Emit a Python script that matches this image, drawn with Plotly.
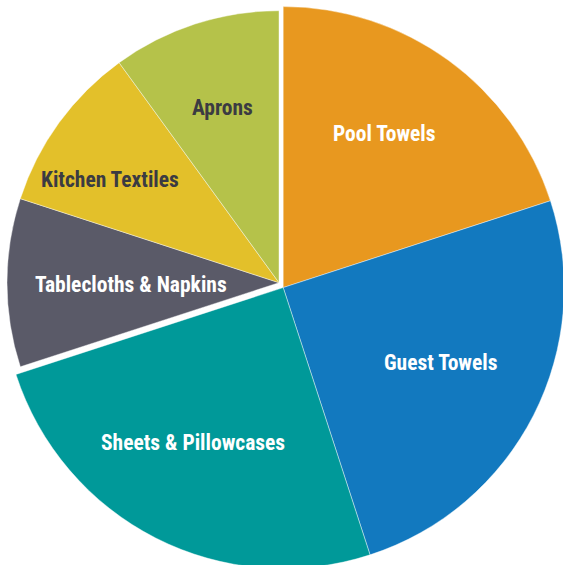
import plotly.graph_objects as go

categories = ["Pool Towels", "Guest Towels", "Sheets & Pillowcases",
              "Tablecloths & Napkins", "Kitchen Textiles", "Aprons"]
shares = [20, 25, 25, 10, 10, 10]
colors = ["#E8981F", "#1279BF", "#009999", "#5A5A68", "#E3C02A", "#B5C24A"]
text_colors = ["#FFFFFF", "#FFFFFF", "#FFFFFF", "#FFFFFF", "#3B3B42", "#3B3B42"]
group = ["right", "right", "right", "left", "left", "left"]
# label centres in pixels (x, y from top)
label_pos = [(385, 133), (440, 362), (193, 442), (131, 284), (110, 179), (222, 108)]

W, H = 566, 572
FONT = "Roboto Condensed, Liberation Sans Narrow, sans-serif"

def dom(cx, cy, r):
    return dict(x=[(cx - r) / W, (cx + r) / W], y=[1 - (cy + r) / H, 1 - (cy - r) / H])

fig = go.Figure()
for g, d in [("right", dom(283.2, 287.6, 281)), ("left", dom(279, 282.7, 272))]:
    mc = [c if gg == g else "rgba(0,0,0,0)" for c, gg in zip(colors, group)]
    lc = ["rgba(255,255,255,0.7)" if gg == g else "rgba(0,0,0,0)" for gg in group]
    fig.add_trace(go.Pie(
        labels=categories, values=shares, textinfo="none",
        sort=False, direction="clockwise", rotation=0,
        marker=dict(colors=mc, line=dict(color=lc, width=0.6)),
        domain=d, showlegend=False, hoverinfo="skip",
    ))

for lab, (px, py), tc in zip(categories, label_pos, text_colors):
    fig.add_annotation(x=px / W, y=1 - py / H, xref="paper", yref="paper",
                       xanchor="center", yanchor="middle", text=lab, showarrow=False,
                       font=dict(family=FONT, size=21.5, weight="bold", color=tc))

fig.update_layout(width=W, height=H, margin=dict(l=0, r=0, t=0, b=0),
                  paper_bgcolor="white", plot_bgcolor="white")
fig.write_html("out.html", config={"displayModeBar": False},
               post_script="document.body.style.margin='0';document.body.style.overflow='hidden';document.documentElement.style.overflow='hidden';")
